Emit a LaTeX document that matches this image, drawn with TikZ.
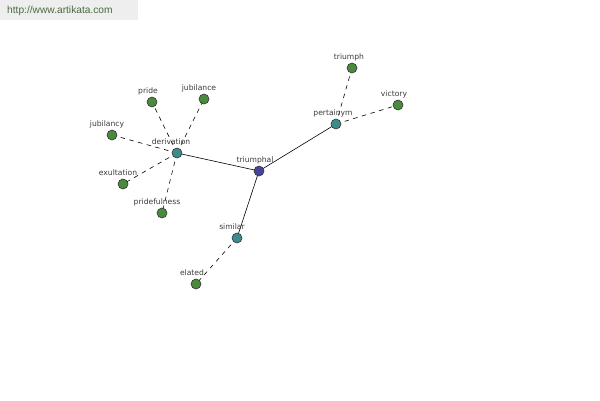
\documentclass[tikz,border=0pt]{standalone}
\usepackage{fontspec}
\setmainfont{Liberation Sans}
\newfontfamily\labelfont{DejaVu Sans}
\usetikzlibrary{backgrounds}
\definecolor{leafgreen}{HTML}{4A8A3C}
\definecolor{hubteal}{HTML}{3C8C8C}
\definecolor{rootblue}{HTML}{45459A}
\definecolor{labelgray}{HTML}{3A3A3A}
\definecolor{urlgreen}{HTML}{4A6A40}
\definecolor{urlbg}{HTML}{EEEEEE}
\begin{document}
\begin{tikzpicture}[x=1pt,y=-1pt,
  dot/.style={circle,draw=black!80,line width=0.6pt,minimum size=10pt,inner sep=0pt},
  leaf/.style={dot,fill=leafgreen},
  hub/.style={dot,fill=hubteal},
  root/.style={dot,fill=rootblue},
  lbl/.style={font=\labelfont\fontsize{7.6}{9}\selectfont,text=labelgray,inner sep=0pt},
  solidlink/.style={draw=black,line width=0.6pt},
  dashlink/.style={draw=black,line width=0.6pt,dash pattern=on 4.5pt off 4.5pt}]
\useasboundingbox (0,0) rectangle (600,400);
% nodes
\node[root] (triumphal) at (259,171) {};
\node[hub] (derivation) at (177,153) {};
\node[hub] (pertainym) at (336,124) {};
\node[hub] (similar) at (237,238) {};
\node[leaf] (triumph) at (352,68) {};
\node[leaf] (victory) at (398,105) {};
\node[leaf] (pride) at (152,102) {};
\node[leaf] (jubilance) at (204,99) {};
\node[leaf] (jubilancy) at (112,135) {};
\node[leaf] (exultation) at (123,184) {};
\node[leaf] (pridefulness) at (162,213) {};
\node[leaf] (elated) at (196,284) {};
% labels
\node[lbl] (l-triumphal) at (255,160) {triumphal};
\node[lbl] (l-derivation) at (171,142) {derivation};
\node[lbl] (l-pertainym) at (333,113) {pertainym};
\node[lbl] (l-similar) at (232,227) {similar};
\node[lbl] (l-triumph) at (349,57) {triumph};
\node[lbl] (l-victory) at (394,94) {victory};
\node[lbl] (l-pride) at (148,91) {pride};
\node[lbl] (l-jubilance) at (199,88) {jubilance};
\node[lbl] (l-jubilancy) at (107,124) {jubilancy};
\node[lbl] (l-exultation) at (118,173) {exultation};
\node[lbl] (l-pridefulness) at (157,202) {pridefulness};
\node[lbl] (l-elated) at (192,273) {elated};
\begin{scope}[on background layer]
\fill[white] (0,0) rectangle (600,400);
\fill[urlbg] (0,0) rectangle (138,20);
\node[anchor=west,font=\fontsize{10.2}{12}\selectfont,text=urlgreen,inner sep=0pt] (url) at (7,11) {http://www.artikata.com};
\draw[solidlink] (triumphal.center) -- (derivation.center);
\draw[solidlink] (triumphal.center) -- (pertainym.center);
\draw[solidlink] (triumphal.center) -- (similar.center);
\draw[dashlink] (derivation.center) -- (pride.center);
\draw[dashlink] (derivation.center) -- (jubilance.center);
\draw[dashlink] (derivation.center) -- (jubilancy.center);
\draw[dashlink] (derivation.center) -- (exultation.center);
\draw[dashlink] (derivation.center) -- (pridefulness.center);
\draw[dashlink] (pertainym.center) -- (triumph.center);
\draw[dashlink] (pertainym.center) -- (victory.center);
\draw[dashlink] (similar.center) -- (elated.center);
\end{scope}
\end{tikzpicture}
\end{document}
